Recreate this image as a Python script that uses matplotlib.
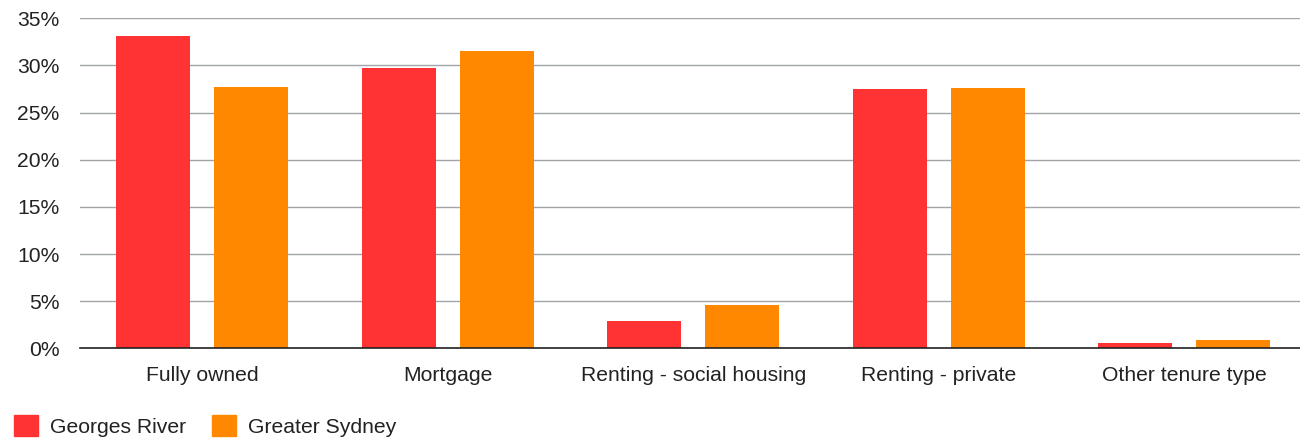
import numpy as np
import matplotlib.pyplot as plt
from matplotlib.ticker import FuncFormatter
from matplotlib.patches import Patch

plt.rcParams['font.family'] = ['Liberation Sans', 'DejaVu Sans']

# tenure share, % of households
categories = ['Fully owned', 'Mortgage', 'Renting - social housing',
              'Renting - private', 'Other tenure type']
georges_river = [33.1, 29.7, 2.9, 27.5, 0.6]
greater_sydney = [27.7, 31.5, 4.6, 27.6, 0.9]
series_names = ['Georges River', 'Greater Sydney']

RED = '#ff3333'
ORANGE = '#ff8800'
FS = 15.2

fig = plt.figure(figsize=(13, 4.43), dpi=100)
# plot area runs slightly past the right edge of the canvas
ax = fig.add_axes([79.5 / 1300, 1 - 348.3 / 443, 1227.5 / 1300, 330 / 443])

x = np.arange(len(categories))
w = 0.302
ax.bar(x - 0.2, georges_river, width=w, color=RED, zorder=3)
ax.bar(x + 0.2, greater_sydney, width=w, color=ORANGE, zorder=3)

ax.set_xlim(-0.5, len(categories) - 0.5)
ax.set_ylim(0, 35)
ax.set_yticks(np.arange(0, 36, 5))
ax.yaxis.set_major_formatter(FuncFormatter(lambda v, p: f'{v:.0f}%'))
ax.set_xticks(x)
ax.set_xticklabels(categories)

ax.grid(axis='y', color='#a0a4a8', linewidth=1, zorder=0)
for s in ['top', 'right', 'left']:
    ax.spines[s].set_visible(False)
ax.spines['bottom'].set_color('#222222')
ax.spines['bottom'].set_linewidth(1.2)
ax.spines['bottom'].set_zorder(4)
ax.tick_params(axis='both', length=0, labelsize=FS, colors='#222222')
ax.tick_params(axis='y', pad=14.5)
ax.tick_params(axis='x', pad=13)

handles = [Patch(color=RED), Patch(color=ORANGE)]
fig.legend(handles, series_names, loc='lower left',
           bbox_to_anchor=(14 / 1300, 6 / 443), ncol=2, frameon=False,
           fontsize=FS, handlelength=1.14, handleheight=1.14,
           handletextpad=0.57, columnspacing=1.2,
           borderpad=0, borderaxespad=0, labelcolor='#222222')

fig.savefig('out.png', dpi=100)
